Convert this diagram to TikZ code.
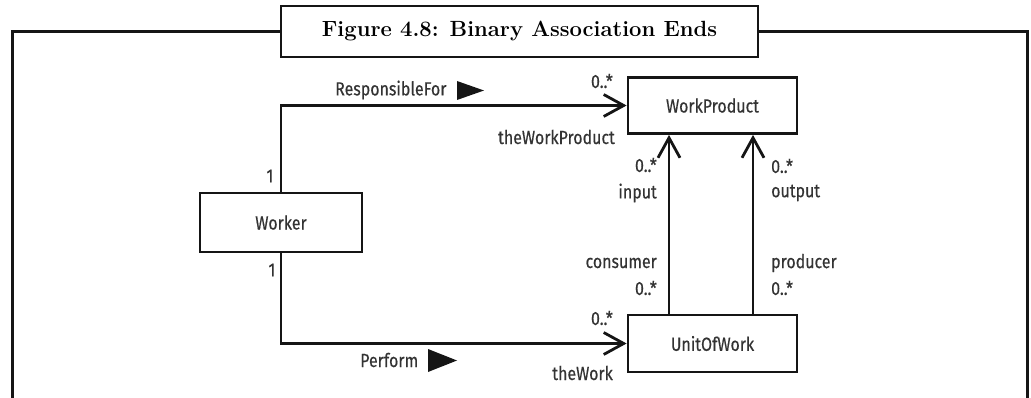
\documentclass[tikz,border=0pt]{standalone}
\usepackage{fontspec}
\newfontfamily\lblfont{Fira Sans}[FakeStretch=0.84,FakeBold=0.4]
\usetikzlibrary{arrows.meta}
\definecolor{ink}{HTML}{151515}
\definecolor{txt}{HTML}{333333}
\begin{document}
\begin{tikzpicture}[x=1pt,y=-1pt,
  lbl/.style={font=\lblfont\fontsize{19}{22}\selectfont, text=txt, inner sep=0pt},
  cls/.style={draw=ink, line width=2.8pt, fill=white, inner sep=0pt,
    font=\lblfont\fontsize{19}{22}\selectfont, text=txt},
  assoc/.style={draw=ink, line width=2.8pt},
  nav/.style={-{Straight Barb[length=20pt,width=22pt]}},
  frame/.style={draw=ink, line width=3pt},
  titlebox/.style={draw=ink, line width=2.5pt, fill=white, inner sep=0pt,
    minimum width=477pt, minimum height=51pt,
    font=\fontsize{22}{26}\selectfont\bfseries}
]
\useasboundingbox (0,0) rectangle (1031,398);

% outer frame, open at the bottom
\draw[frame] (12,405) -- (12,32) -- (1027,32) -- (1027,405);
\node[titlebox] (title) at (519.5,31.5) {Figure 4.8: Binary Association Ends};

% classes
\node[cls, minimum width=162pt, minimum height=59pt] (worker) at (281,222.5) {Worker};
\node[cls, minimum width=169pt, minimum height=56pt] (wp) at (712.5,105.5) {WorkProduct};
\node[cls, minimum width=169pt, minimum height=57pt] (uow) at (712.5,343.5) {UnitOfWork};

% associations
\draw[assoc, nav] (worker.north) |- (wp.west);
\draw[assoc, nav] (worker.south) |- (uow.west);
\draw[assoc, nav] ([xshift=-43.5pt]uow.north) -- ([xshift=-43.5pt]wp.south);
\draw[assoc, nav] ([xshift=40.5pt]uow.north) -- ([xshift=40.5pt]wp.south);

% ResponsibleFor
\node[lbl, anchor=west] (rfname) at (335,90) {ResponsibleFor};
\fill[ink] (457,81) -- (484,90.5) -- (457,100) -- cycle;
\node[lbl, anchor=east] (rfmult) at (613,81) {0..*};
\node[lbl, anchor=east] (rfrole) at (615,137) {theWorkProduct};
\node[lbl] (rfone) at (270,176) {1};

% Perform
\node[lbl, anchor=west] (pfname) at (360,360) {Perform};
\fill[ink] (428,349) -- (457,360.5) -- (428,372) -- cycle;
\node[lbl, anchor=east] (pfmult) at (613,318) {0..*};
\node[lbl, anchor=east] (pfrole) at (613,373) {theWork};
\node[lbl] (pfone) at (272,270) {1};

% input / consumer
\node[lbl, anchor=east] (inmult) at (657,165) {0..*};
\node[lbl, anchor=east] (inrole) at (657,193) {input};
\node[lbl, anchor=east] (conrole) at (657,263) {consumer};
\node[lbl, anchor=east] (conmult) at (657,288) {0..*};

% output / producer
\node[lbl, anchor=west] (outmult) at (771,166) {0..*};
\node[lbl, anchor=west] (outrole) at (771,193) {output};
\node[lbl, anchor=west] (prorole) at (771,263) {producer};
\node[lbl, anchor=west] (promult) at (771,288) {0..*};
\end{tikzpicture}
\end{document}
